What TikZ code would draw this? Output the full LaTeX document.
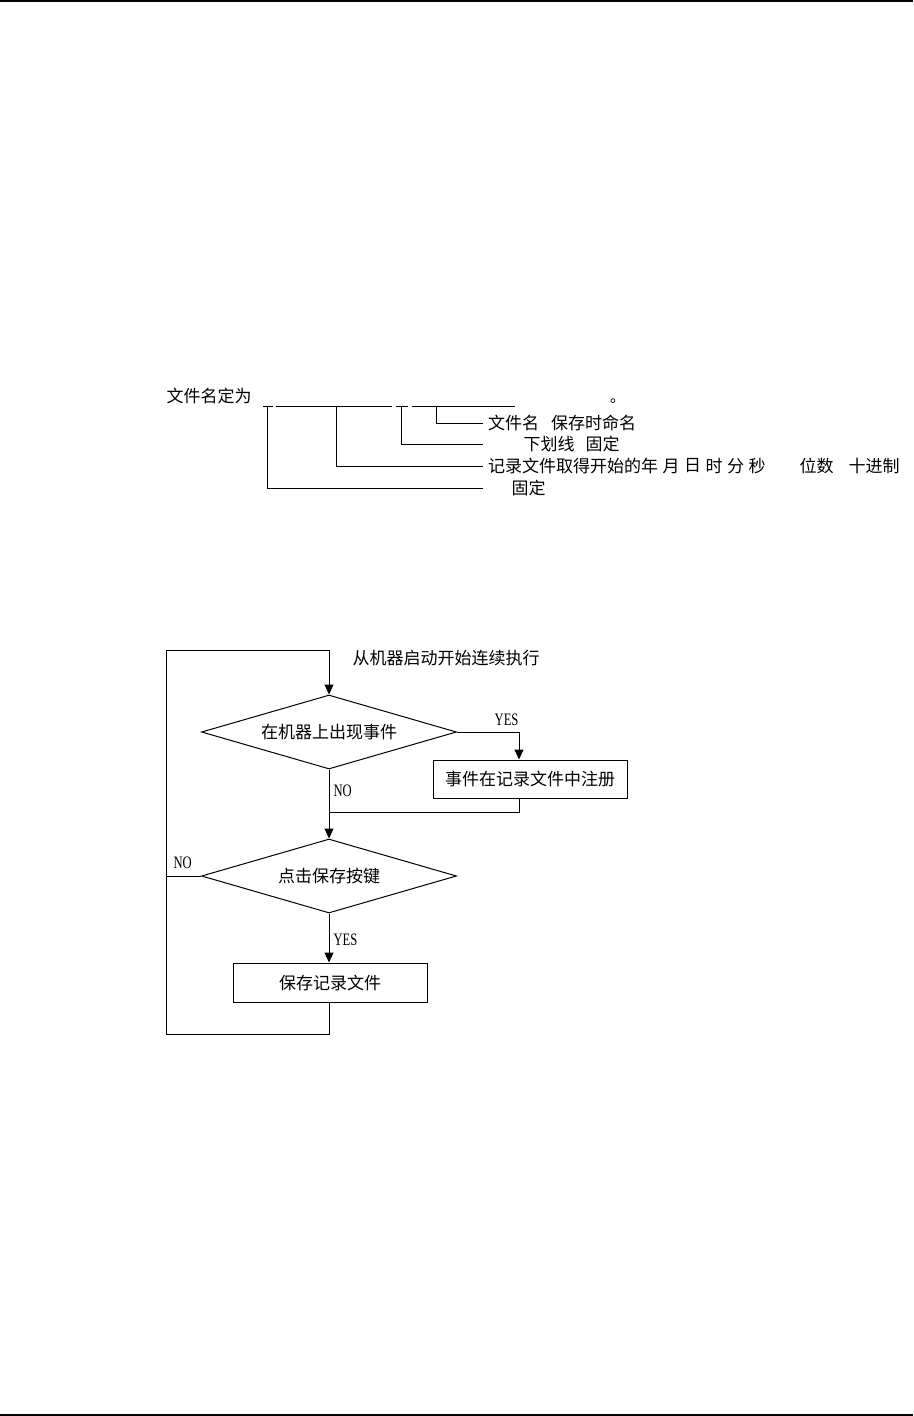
\documentclass[tikz,border=0pt]{standalone}
\usepackage{fontspec}
\newfontfamily\cjk{Noto Sans CJK SC}
\newfontfamily\lat[FakeStretch=0.72]{Liberation Serif}
\usetikzlibrary{arrows.meta,shapes.geometric}
\begin{document}
\begin{tikzpicture}[x=1pt,y=-1pt,line width=1pt,
  cjktext/.style={font=\cjk\fontsize{17}{20}\selectfont,inner sep=0pt},
  lab/.style={font=\lat\fontsize{17.5}{20}\selectfont,inner sep=0pt},
  decision/.style={draw,diamond,aspect=3.4,minimum width=255pt,minimum height=74pt,inner sep=0pt,font=\cjk\fontsize{17}{20}\selectfont},
  procbox/.style={draw,rectangle,minimum width=194pt,minimum height=38pt,inner sep=0pt,font=\cjk\fontsize{17}{20}\selectfont},
  arr/.style={-{Triangle[length=10pt,width=9pt]}}]
\useasboundingbox (0,0) rectangle (913,1416);
% page rules
\draw[line width=2pt] (0,1) -- (913,1);
\draw[line width=2pt] (0,1415) -- (913,1415);

% ---------- file name description ----------
\node[cjktext,anchor=west] (fname) at (166,396) {文件名定为};
\node[font=\cjk\fontsize{15}{18}\selectfont,inner sep=0pt,anchor=base west] (stop) at (609.5,402) {。};
\draw (263,406.5) -- (273,406.5);
\draw (275.7,406.5) -- (392.3,406.5);
\draw (395.7,406.5) -- (408.3,406.5);
\draw (411.7,406.5) -- (515,406.5);

\coordinate (v1) at (436.7,406.5);
\coordinate (v2) at (401.7,406.5);
\coordinate (v3) at (336.7,406.5);
\coordinate (v4) at (267.7,406.5);

\node[cjktext,anchor=west] (t1a) at (487.5,423) {文件名};
\node[cjktext,anchor=west] (t1b) at (550.5,423) {保存时命名};
\node[cjktext,anchor=west] (t2a) at (523,444.5) {下划线};
\node[cjktext,anchor=west] (t2b) at (585,444.5) {固定};
\node[cjktext,anchor=west] (t3) at (487.5,466) {记录文件取得开始的年};
\node[cjktext,anchor=west] (t3m) at (662,466) {月};
\node[cjktext,anchor=west] (t3d) at (683.5,466) {日};
\node[cjktext,anchor=west] (t3h) at (705,466) {时};
\node[cjktext,anchor=west] (t3n) at (726.5,466) {分};
\node[cjktext,anchor=west] (t3s) at (748,466) {秒};
\node[cjktext,anchor=west] (t3w) at (799,466) {位数};
\node[cjktext,anchor=west] (t3x) at (848,466) {十进制};
\node[cjktext,anchor=west] (t4) at (511,488) {固定};

\draw (v1) |- (483,423);
\draw (v2) |- (483,444.5);
\draw (v3) |- (483,466);
\draw (v4) |- (483,488);

% ---------- flow chart ----------
\node[cjktext,anchor=west] (startlab) at (352,658) {从机器启动开始连续执行};
\node[decision] (d1) at (329,732) {在机器上出现事件};
\node[procbox] (b1) at (530,779) {事件在记录文件中注册};
\node[decision] (d2) at (329,876) {点击保存按键};
\node[procbox,minimum height=39pt] (b2) at (330,982.5) {保存记录文件};

\coordinate (lb) at (166,1034);
\coordinate (lt) at (166,650);
\coordinate (bx) at (519,0);
\coordinate (mj) at (329,812);

\draw[arr] (b2.south -| d1.south) |- (lb) -- (lt) -| (d1.north);
\draw[arr] (d1.south) -- (d2.north);
\draw[arr] (d1.east) -| (bx |- b1.north);
\draw (bx |- b1.south) |- (mj);
\draw (d2.west) -- (d2.west -| lt);
\draw[arr] (d2.south) -- (d2.south |- b2.north);

\node[lab,anchor=east] (yes1) at (519,720) {YES};
\node[lab,anchor=west] (no1) at (333,791) {NO};
\node[lab,anchor=west] (no2) at (173,863) {NO};
\node[lab,anchor=west] (yes2) at (333,940) {YES};
\end{tikzpicture}
\end{document}
